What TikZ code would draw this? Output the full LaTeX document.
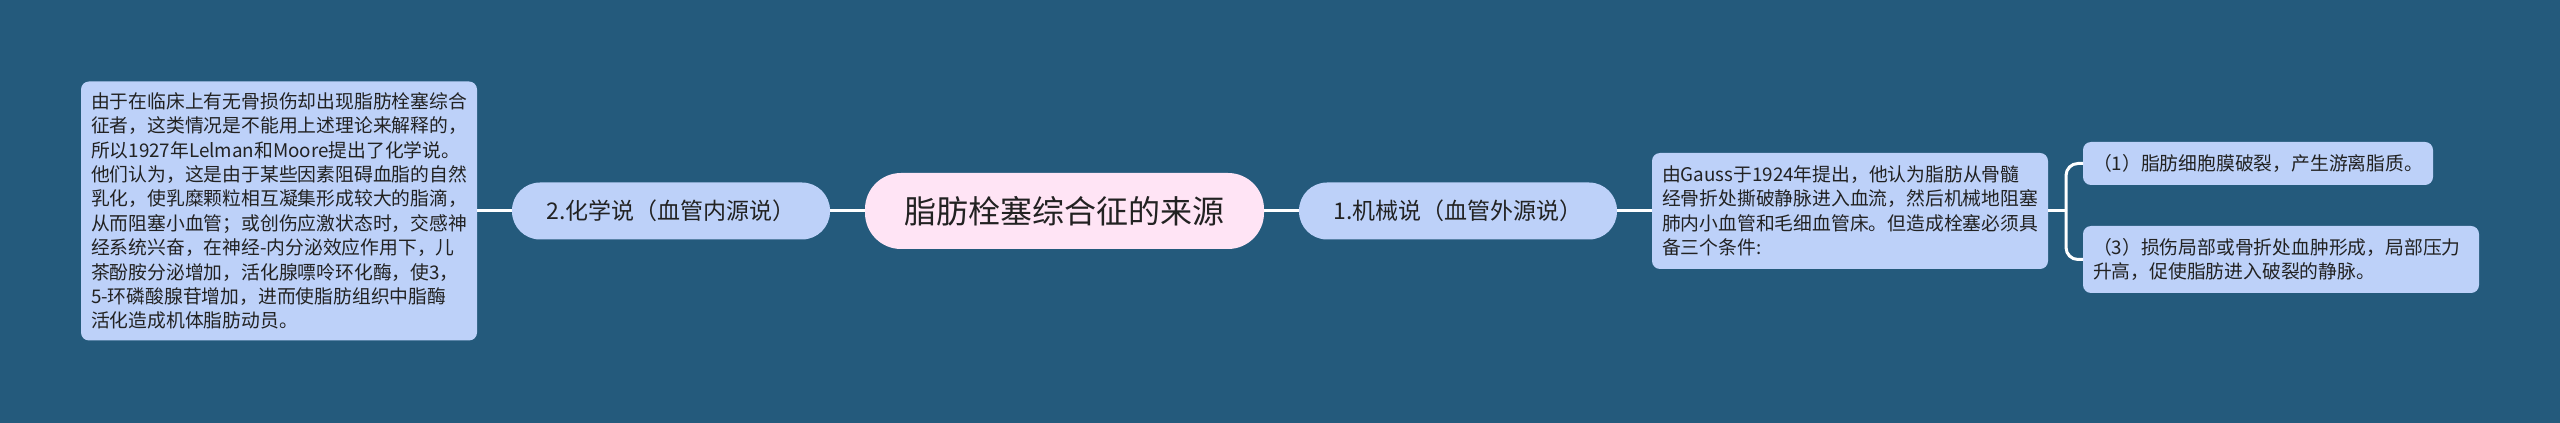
\documentclass[tikz,border=0pt]{standalone}
\usepackage{fontspec}
\setmainfont{Noto Sans CJK SC}
\usetikzlibrary{positioning}
\definecolor{bgblue}{HTML}{245A7C}
\definecolor{nodeblue}{HTML}{BDD1F9}
\definecolor{rootpink}{HTML}{FFE4F5}
\definecolor{inkgray}{HTML}{222222}

\begin{document}
\begin{tikzpicture}[every node/.style={outer sep=0pt,text=inkgray},
 root/.style={fill=rootpink,rounded corners=18pt,minimum width=199.5pt,
 minimum height=38pt,font=\fontsize{16pt}{19pt}\selectfont},
 branch/.style={fill=nodeblue,rounded corners=14pt,minimum width=159pt,
 minimum height=28.5pt,font=\fontsize{11.5pt}{14pt}\selectfont},
 note/.style={fill=nodeblue,rounded corners=4pt,align=left,text width=188pt,
 inner xsep=5pt,inner ysep=4pt,font=\fontsize{9.4pt}{12.2pt}\selectfont},
 link/.style={draw=white,line width=1.5pt,rounded corners=6pt}]

  \fill[bgblue] (0,0) rectangle (1280pt,211.5pt);
  \useasboundingbox (0,0) rectangle (1280pt,211.5pt);

  \node[root] (root) at (532.25pt,106pt) {脂肪栓塞综合征的来源};

  % left side
  \node[branch,left=17.5pt of root] (chem) {2.化学说（血管内源说）};
  \node[note,left=17.5pt of chem,minimum height=129.5pt] (chemtxt)
   {由于在临床上有无骨损伤却出现脂肪栓塞综合\\
    征者，这类情况是不能用上述理论来解释的，\\
    所以1927年Lelman和Moore提出了化学说。\\
    他们认为，这是由于某些因素阻碍血脂的自然\\
    乳化，使乳糜颗粒相互凝集形成较大的脂滴，\\
    从而阻塞小血管；或创伤应激状态时，交感神\\
    经系统兴奋，在神经-内分泌效应作用下，儿\\
    茶酚胺分泌增加，活化腺嘌呤环化酶，使3，\\
    5-环磷酸腺苷增加，进而使脂肪组织中脂酶\\
    活化造成机体脂肪动员。};

  % right side
  \node[branch,right=17.5pt of root] (mech) {1.机械说（血管外源说）};
  \node[note,right=17.5pt of mech,minimum height=58pt] (mechtxt)
   {由Gauss于1924年提出，他认为脂肪从骨髓\\
    经骨折处撕破静脉进入血流，然后机械地阻塞\\
    肺内小血管和毛细血管床。但造成栓塞必须具\\
    备三个条件:};
  \node[note,right=17.5pt of mechtxt,yshift=23.75pt,text width=165pt,
   minimum height=21.5pt] (leaf1) {（1）脂肪细胞膜破裂，产生游离脂质。};
  \node[note,right=17.5pt of mechtxt,yshift=-24.25pt,
   minimum height=33.5pt] (leaf2)
   {（3）损伤局部或骨折处血肿形成，局部压力\\
    升高，促使脂肪进入破裂的静脉。};

  \draw[link] (root) -- (chem);
  \draw[link] (chem) -- (chemtxt);
  \draw[link] (root) -- (mech);
  \draw[link] (mech) -- (mechtxt);
  \draw[link] (mechtxt.east) -- ++(9pt,0) coordinate (fork);
  \foreach \L in {leaf1,leaf2}
   \draw[link] (fork) |- (\L);

\end{tikzpicture}
\end{document}
